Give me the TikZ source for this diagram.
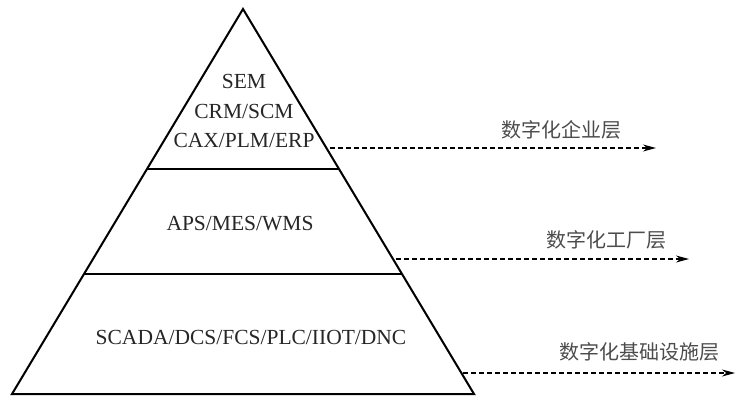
\documentclass[tikz,border=0pt]{standalone}
\usepackage{fontspec}
\setmainfont{Liberation Serif}
\newfontfamily\cjk{Noto Sans CJK SC}
\usetikzlibrary{arrows.meta}
\begin{document}
\begin{tikzpicture}[x=1pt,y=-1pt,
  edge/.style={line width=2pt,line join=miter},
  sep/.style={line width=2pt},
  lbl/.style={font=\fontsize{21.5}{29.5}\selectfont,text=black!85,align=center,inner sep=0pt},
  cn/.style={font=\cjk\fontsize{20}{24}\selectfont,text=black!70,inner sep=0pt},
  flow/.style={line width=1.2pt,dash pattern=on 5pt off 3pt,-{Stealth[length=13pt,width=7pt]}}]
\useasboundingbox (0,0) rectangle (736,397);
\coordinate (apex) at (243,9);
\coordinate (bl) at (12,394);
\coordinate (br) at (474,394);
\path (apex) -- (bl) coordinate[pos=0.4156] (l1);
\path (apex) -- (br) coordinate[pos=0.4156] (r1);
\path (apex) -- (bl) coordinate[pos=0.6883] (l2);
\path (apex) -- (br) coordinate[pos=0.6883] (r2);
\draw[edge] (apex) -- (br) -- (bl) -- cycle;
\draw[sep] (l1) -- (r1);
\draw[sep] (l2) -- (r2);
\node[lbl] (top) at (244,111) {SEM\\CRM/SCM\\CAX/PLM/ERP};
\node[lbl] (mid) at (240,224) {APS/MES/WMS};
\node[lbl] (bot) at (251,337) {SCADA/DCS/FCS/PLC/IIOT/DNC};
\coordinate (a1s) at (330,148);
\coordinate (a1e) at (656,148);
\coordinate (a2s) at (396,259);
\coordinate (a2e) at (689,259);
\coordinate (a3s) at (463,373);
\coordinate (a3e) at (735,373);
\draw[flow] (a1s) -- (a1e);
\draw[flow] (a2s) -- (a2e);
\draw[flow] (a3s) -- (a3e);
\node[cn] (t1) at (561,130) {数字化企业层};
\node[cn] (t2) at (606,240) {数字化工厂层};
\node[cn] (t3) at (639,352) {数字化基础设施层};
\end{tikzpicture}
\end{document}
